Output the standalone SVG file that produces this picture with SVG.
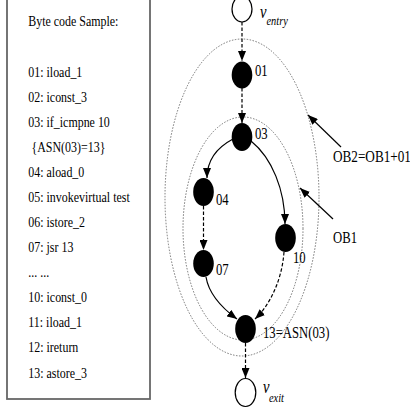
<svg xmlns="http://www.w3.org/2000/svg" width="410" height="410" viewBox="0 0 410 410">
<style>
.t{font-family:"Liberation Serif","Times New Roman",serif;font-size:15.5px;fill:#000}
.l{font-family:"Liberation Serif","Times New Roman",serif;font-size:16.5px;fill:#000}
.vi{font-family:"Liberation Serif","Times New Roman",serif;font-style:italic;fill:#000}
.dash{fill:none;stroke:#000;stroke-width:1.2;stroke-dasharray:3.5,2}
.sol{fill:none;stroke:#000;stroke-width:1.2}
.ob{fill:none;stroke:#666;stroke-width:0.9;stroke-dasharray:1.5,1.5}
.bn{fill:#000}
.wn{fill:#fff;stroke:#000;stroke-width:1.2}
</style>
<defs>
<marker id="ah" viewBox="0 0 10 10" refX="10" refY="5" markerWidth="10" markerHeight="8" markerUnits="userSpaceOnUse" orient="auto" preserveAspectRatio="none"><path d="M0,0 L10,5 L0,10 z" fill="#000"/></marker>
</defs>
<rect width="410" height="410" fill="#fff"/>

<g id="code-box">
<rect x="7" y="-5" width="143" height="404" fill="#fff" stroke="#666" stroke-width="1.8"/>
<text class="t" transform="translate(28.3,26) scale(0.77,1)">Byte code Sample:</text>
<text class="t" transform="translate(28.3,77) scale(0.77,1)">01: iload_1</text>
<text class="t" transform="translate(28.3,102) scale(0.77,1)">02: iconst_3</text>
<text class="t" transform="translate(28.3,127) scale(0.77,1)">03: if_icmpne 10</text>
<text class="t" transform="translate(31.5,152) scale(0.77,1)">{ASN(03)=13}</text>
<text class="t" transform="translate(28.3,177) scale(0.77,1)">04: aload_0</text>
<text class="t" transform="translate(28.3,202) scale(0.77,1)">05: invokevirtual test</text>
<text class="t" transform="translate(28.3,227) scale(0.77,1)">06: istore_2</text>
<text class="t" transform="translate(28.3,252) scale(0.77,1)">07: jsr 13</text>
<text class="t" transform="translate(28.3,277) scale(0.77,1)">... ...</text>
<text class="t" transform="translate(28.3,302) scale(0.77,1)">10: iconst_0</text>
<text class="t" transform="translate(28.3,327) scale(0.77,1)">11: iload_1</text>
<text class="t" transform="translate(28.3,352) scale(0.77,1)">12: ireturn</text>
<text class="t" transform="translate(28.3,378) scale(0.77,1)">13: astore_3</text>
</g>

<g id="regions">
<ellipse id="OB2" class="ob" cx="242" cy="197.5" rx="77" ry="158.5"/>
<ellipse id="OB1" class="ob" cx="243" cy="228.5" rx="60" ry="111.5"/>
</g>

<g id="connectors">
<line class="dash" x1="242" y1="22" x2="242" y2="61" marker-end="url(#ah)"/>
<line class="dash" x1="242" y1="88" x2="242" y2="123" marker-end="url(#ah)"/>
<path class="sol" d="M233,139 C216,148 207,162 207,178" marker-end="url(#ah)"/>
<path class="sol" d="M251,141 C272,158 285,190 285,224" marker-end="url(#ah)"/>
<line class="dash" x1="203.5" y1="206" x2="203.5" y2="250" marker-end="url(#ah)"/>
<path class="sol" d="M206,277 C209,295 222,308 237,319" marker-end="url(#ah)"/>
<path class="dash" d="M284,252 C282,280 270,305 255,319" marker-end="url(#ah)"/>
<line class="dash" x1="245.5" y1="343" x2="245.5" y2="378" marker-end="url(#ah)"/>
<line class="sol" x1="341" y1="147" x2="308" y2="115" marker-end="url(#ah)"/>
<line class="sol" x1="333" y1="219" x2="300" y2="188" marker-end="url(#ah)"/>
</g>

<g id="v-entry">
<ellipse class="wn" cx="242" cy="9" rx="10" ry="13"/>
<text class="vi" font-size="19" transform="translate(260,18) scale(0.77,1)">v</text>
<text class="vi" font-size="13.5" transform="translate(266.5,25) scale(0.77,1)">entry</text>
</g>
<g id="n01">
<ellipse class="bn" cx="242" cy="75" rx="10.3" ry="13.5"/>
<text class="l" transform="translate(255,76) scale(0.77,1)">01</text>
</g>
<g id="n03">
<ellipse class="bn" cx="242" cy="137" rx="10.3" ry="14"/>
<text class="l" transform="translate(255,139) scale(0.77,1)">03</text>
</g>
<g id="n04">
<ellipse class="bn" cx="203.5" cy="192" rx="10.3" ry="14"/>
<text class="l" transform="translate(216,205) scale(0.77,1)">04</text>
</g>
<g id="n07">
<ellipse class="bn" cx="203.5" cy="263.5" rx="10.3" ry="13.5"/>
<text class="l" transform="translate(216,275) scale(0.77,1)">07</text>
</g>
<g id="n10">
<ellipse class="bn" cx="285.5" cy="238" rx="10.3" ry="14"/>
<text class="l" transform="translate(293,263) scale(0.77,1)">10</text>
</g>
<g id="n13">
<ellipse class="bn" cx="245.5" cy="329" rx="10.3" ry="14"/>
<text class="l" transform="translate(263,338) scale(0.77,1)">13=ASN(03)</text>
</g>
<g id="v-exit">
<ellipse class="wn" cx="245.5" cy="392.5" rx="10.3" ry="14"/>
<text class="vi" font-size="19" transform="translate(263,393) scale(0.77,1)">v</text>
<text class="vi" font-size="13.5" transform="translate(269,402) scale(0.77,1)">exit</text>
</g>

<g id="labels">
<text class="l" transform="translate(333,162) scale(0.8,1)">OB2=OB1+01</text>
<text class="l" transform="translate(333,243) scale(0.77,1)">OB1</text>
</g>
</svg>
